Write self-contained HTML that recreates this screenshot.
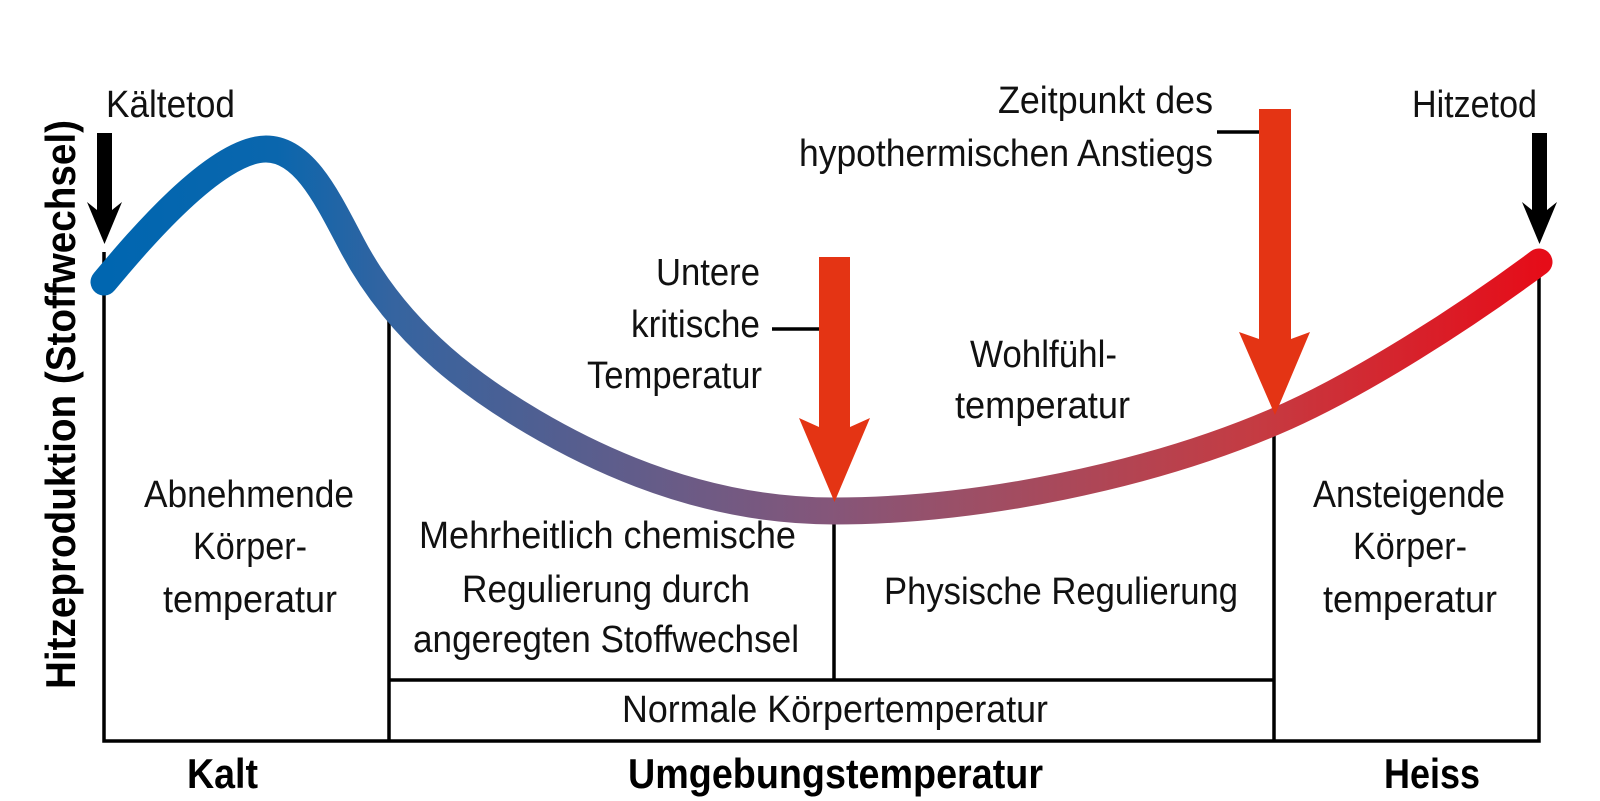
<!DOCTYPE html>
<html>
<head>
<meta charset="utf-8">
<style>
  html, body { margin:0; padding:0; background:#ffffff; }
  svg { display:block; }
  .t { font-family: "Liberation Sans Narrow", "Liberation Sans", sans-serif; font-size:38px; fill:#111; }
  .b { font-family: "Liberation Sans Narrow", "Liberation Sans", sans-serif; font-size:42px; font-weight:bold; fill:#000; }
</style>
</head>
<body>
<svg width="1600" height="801" viewBox="0 0 1600 801" xmlns="http://www.w3.org/2000/svg">
  <defs>
    <linearGradient id="g" gradientUnits="userSpaceOnUse" x1="104" y1="0" x2="1545" y2="0">
      <stop offset="0" stop-color="#0066b0"/>
      <stop offset="0.12" stop-color="#0a66ad"/>
      <stop offset="0.2" stop-color="#3564a0"/>
      <stop offset="0.3" stop-color="#4f5f92"/>
      <stop offset="0.4" stop-color="#6a5b86"/>
      <stop offset="0.5" stop-color="#84567a"/>
      <stop offset="0.6" stop-color="#9c4f66"/>
      <stop offset="0.8" stop-color="#c53b42"/>
      <stop offset="1" stop-color="#e60c18"/>
    </linearGradient>
  </defs>
  <rect width="1600" height="801" fill="#ffffff"/>

  <!-- frame lines -->
  <g stroke="#000" stroke-width="3.5" fill="none">
    <path d="M104,252 V741 H1539 V262" stroke-linejoin="miter"/>
    <line x1="389" y1="320" x2="389" y2="741"/>
    <line x1="1274" y1="420" x2="1274" y2="741"/>
    <line x1="389" y1="680" x2="1274" y2="680"/>
    <line x1="834" y1="511" x2="834" y2="680"/>
    <line x1="772" y1="329" x2="820" y2="329"/>
    <line x1="1217" y1="132" x2="1260" y2="132"/>
  </g>

  <!-- curve -->
  <path d="M104,282 C135,245 215,149 266,149 C304,149 327,197.5 352,245 C402,340 483,392.5 533,422 C623,475 724,511 834,511 C980,511 1150,475 1274,422 C1361,385 1469,314 1539,262"
        fill="none" stroke="url(#g)" stroke-width="27" stroke-linecap="round" stroke-linejoin="round"/>

  <!-- black arrows -->
  <polygon fill="#000" points="97,133 112,133 112,210 122,202 104.5,244 87,202 97,210"/>
  <polygon fill="#000" points="1532,133 1547,133 1547,210 1557,202 1539.5,244 1522,202 1532,210"/>

  <!-- red arrows -->
  <polygon fill="#e43414" points="819,257 850,257 850,427 870,418 834.5,502 799,418 819,427"/>
  <polygon fill="#e43414" points="1259,109 1291,109 1291,339 1310,332 1275,415 1239,332 1259,339"/>

  <!-- labels top -->
  <text class="t" x="106" y="117" textLength="129" lengthAdjust="spacingAndGlyphs">Kältetod</text>
  <text class="t" x="1412" y="117" textLength="125" lengthAdjust="spacingAndGlyphs">Hitzetod</text>
  <text class="t" x="998" y="113" textLength="215" lengthAdjust="spacingAndGlyphs">Zeitpunkt des</text>
  <text class="t" x="799" y="166" textLength="414" lengthAdjust="spacingAndGlyphs">hypothermischen Anstiegs</text>

  <text class="t" x="656" y="285" textLength="104" lengthAdjust="spacingAndGlyphs">Untere</text>
  <text class="t" x="631" y="337" textLength="129" lengthAdjust="spacingAndGlyphs">kritische</text>
  <text class="t" x="587" y="388" textLength="175" lengthAdjust="spacingAndGlyphs">Temperatur</text>

  <text class="t" x="970" y="367" textLength="147" lengthAdjust="spacingAndGlyphs">Wohlfühl-</text>
  <text class="t" x="955" y="418" textLength="175" lengthAdjust="spacingAndGlyphs">temperatur</text>

  <!-- left box -->
  <text class="t" x="144" y="507" textLength="210" lengthAdjust="spacingAndGlyphs">Abnehmende</text>
  <text class="t" x="193" y="559" textLength="114" lengthAdjust="spacingAndGlyphs">Körper-</text>
  <text class="t" x="163" y="612" textLength="174" lengthAdjust="spacingAndGlyphs">temperatur</text>

  <!-- middle-left box -->
  <text class="t" x="419" y="548" textLength="377" lengthAdjust="spacingAndGlyphs">Mehrheitlich chemische</text>
  <text class="t" x="462" y="602" textLength="288" lengthAdjust="spacingAndGlyphs">Regulierung durch</text>
  <text class="t" x="413" y="652" textLength="386" lengthAdjust="spacingAndGlyphs">angeregten Stoffwechsel</text>

  <!-- middle-right box -->
  <text class="t" x="884" y="604" textLength="354" lengthAdjust="spacingAndGlyphs">Physische Regulierung</text>

  <!-- right box -->
  <text class="t" x="1313" y="507" textLength="192" lengthAdjust="spacingAndGlyphs">Ansteigende</text>
  <text class="t" x="1353" y="559" textLength="114" lengthAdjust="spacingAndGlyphs">Körper-</text>
  <text class="t" x="1323" y="612" textLength="174" lengthAdjust="spacingAndGlyphs">temperatur</text>

  <!-- normal body temp -->
  <text class="t" x="622" y="722" textLength="426" lengthAdjust="spacingAndGlyphs">Normale Körpertemperatur</text>

  <!-- bottom axis labels -->
  <text class="b" x="187" y="788" textLength="71" lengthAdjust="spacingAndGlyphs">Kalt</text>
  <text class="b" x="628" y="788" textLength="415" lengthAdjust="spacingAndGlyphs">Umgebungstemperatur</text>
  <text class="b" x="1384" y="788" textLength="96" lengthAdjust="spacingAndGlyphs">Heiss</text>

  <!-- y-axis label -->
  <text class="b" transform="translate(75,689) rotate(-90)" x="0" y="0" textLength="569" lengthAdjust="spacingAndGlyphs">Hitzeproduktion (Stoffwechsel)</text>
</svg>
</body>
</html>
